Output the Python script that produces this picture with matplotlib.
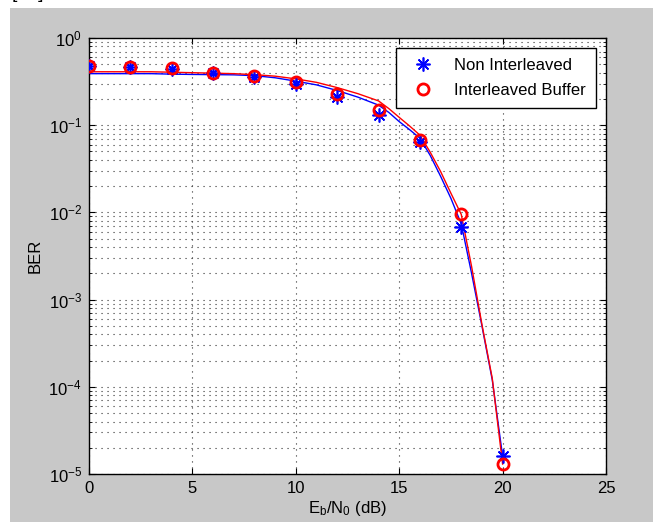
import numpy as np
import matplotlib
matplotlib.use("Agg")
import matplotlib.pyplot as plt
from matplotlib.patches import Rectangle

plt.rcParams['font.family'] = ['Liberation Sans', 'DejaVu Sans']
plt.rcParams['mathtext.fontset'] = 'custom'
plt.rcParams['mathtext.rm'] = 'Liberation Sans'
plt.rcParams['mathtext.it'] = 'Liberation Sans'
plt.rcParams['mathtext.default'] = 'regular'

# measured points
snr_pts = [0, 2, 4, 6, 8, 10, 12, 14, 16, 18, 20]
ber_non = [0.48, 0.46, 0.44, 0.40, 0.36, 0.30, 0.21, 0.13, 0.064, 0.0068, 1.6e-5]
ber_int = [0.48, 0.47, 0.45, 0.40, 0.37, 0.31, 0.23, 0.15, 0.068, 0.0095, 1.3e-5]

# fitted curves
snr_fit = [0, 3, 4, 5, 6, 7, 8, 9, 10, 11, 12, 13, 14, 14.5, 15, 15.5, 16,
           16.5, 17, 17.5, 18, 18.5, 19, 19.5, 20]
fit_non = [0.39, 0.39, 0.385, 0.382, 0.38, 0.378, 0.37, 0.35, 0.32,
           0.29, 0.25, 0.21, 0.17, 0.14, 0.11, 0.089, 0.071,
           0.045, 0.026, 0.0145, 0.0074, 0.002, 5e-4, 1.2e-4, 1.6e-5]
fit_int = [0.41, 0.41, 0.405, 0.40, 0.395, 0.39, 0.38, 0.365, 0.34,
           0.31, 0.27, 0.23, 0.19, 0.155, 0.123, 0.098, 0.077,
           0.049, 0.0295, 0.0166, 0.0095, 0.0024, 5.2e-4, 1.25e-4, 1.3e-5]

fig = plt.figure(figsize=(6.53, 5.22), dpi=100, facecolor='#c8c8c8')
fig.patches.append(Rectangle((0, 1 - 8 / 522), 1, 8 / 522, transform=fig.transFigure,
                             facecolor='white', edgecolor='none', zorder=0))
fig.patches.append(Rectangle((0, 0), 10 / 653, 1, transform=fig.transFigure,
                             facecolor='white', edgecolor='none', zorder=0))
fig.text(0.018, 1.012, "[16].", fontsize=14, va='center', ha='left')

ax = fig.add_axes([89 / 653, 1 - 474 / 522, 517 / 653, 436 / 522])
ax.set_facecolor('white')

ax.semilogy(snr_pts, ber_non, linestyle='none', marker=(8, 2, 0), color='blue',
            markersize=10, markeredgewidth=1.2, label='Non Interleaved', zorder=3)
ax.semilogy(snr_pts, ber_int, 'o', color='red', markerfacecolor='none', markeredgewidth=2,
            markersize=8, label='Interleaved Buffer', zorder=3)
ax.semilogy(snr_fit, fit_non, '-', color='blue', linewidth=1)
ax.semilogy(snr_fit, fit_int, '-', color='red', linewidth=1)

ax.set_xlim(0, 25)
ax.set_ylim(1e-5, 1)
ax.set_xticks([0, 5, 10, 15, 20, 25])
dots = (0, (1, 4.4))
ax.grid(True, which='major', linestyle=dots, color='#303030', linewidth=0.8)
ax.grid(True, which='minor', axis='y', linestyle=dots, color='#303030', linewidth=0.8)
ax.tick_params(which='both', direction='in', top=True, right=True, labelsize=12, pad=5)
ax.tick_params(which='major', length=4)
ax.tick_params(which='minor', length=2)
for s in ax.spines.values():
    s.set_linewidth(1)

ax.set_xlabel(r'E$_b$/N$_0$ (dB)', fontsize=12, labelpad=2)
ax.set_ylabel('BER', fontsize=12, labelpad=4)

leg = ax.legend(loc='upper right', fancybox=False, edgecolor='k', framealpha=1,
                fontsize=12, borderaxespad=0.6, handletextpad=0.9,
                labelspacing=0.6, borderpad=0.6)
leg.get_frame().set_linewidth(1)

fig.savefig('out.png', dpi=100, facecolor=fig.get_facecolor())
